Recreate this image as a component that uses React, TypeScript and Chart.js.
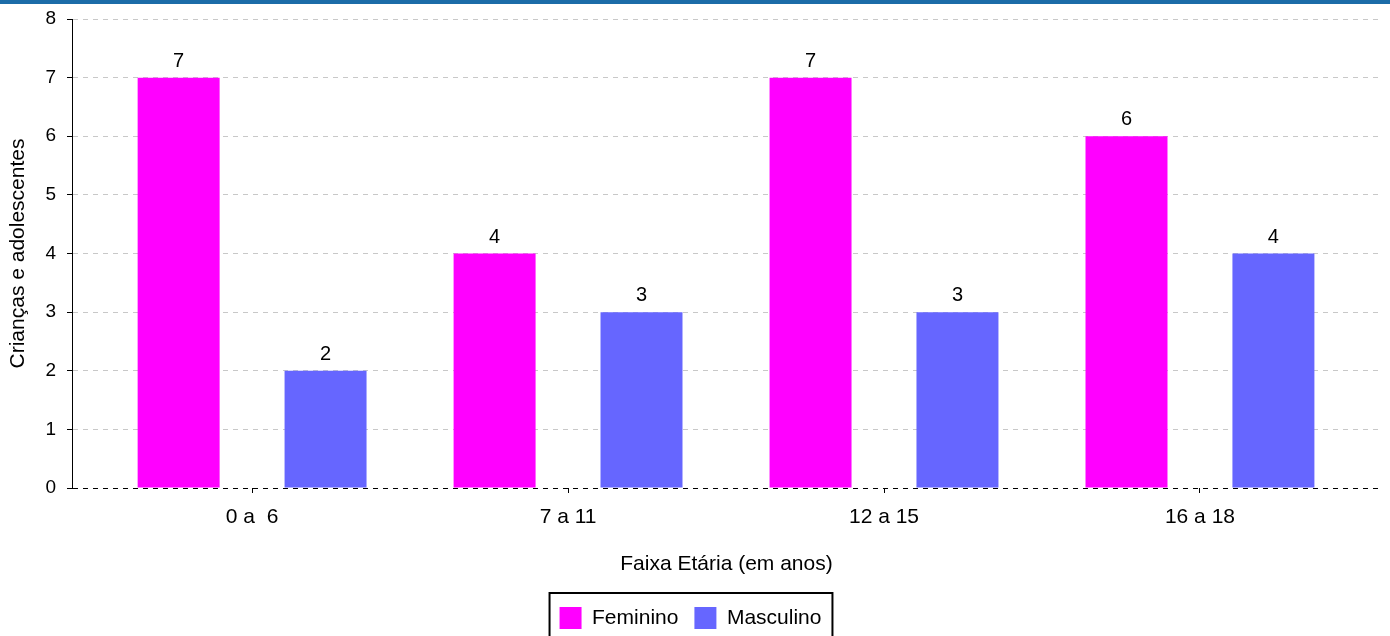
import React, { useEffect, useRef } from 'react';
import { Chart, registerables } from 'chart.js';

Chart.register(...registerables);

const categories = ['0 a  6', '7 a 11', '12 a 15', '16 a 18'];
const feminino = [7, 4, 7, 6];
const masculino = [2, 3, 3, 4];
const yMin = 0;
const yMax = 8;
const seriesNames = ['Feminino', 'Masculino'];
const seriesColors = ['#ff00ff', '#6666ff'];
const xTitle = 'Faixa Etária (em anos)';
const yTitle = 'Crianças e adolescentes';

const FONT = '"Liberation Sans", Arial, sans-serif';

const valueLabels = {
  id: 'valueLabels',
  afterDatasetsDraw(chart: any) {
    const ctx = chart.ctx;
    ctx.save();
    ctx.fillStyle = '#000';
    ctx.font = `20px ${FONT}`;
    ctx.textAlign = 'center';
    ctx.textBaseline = 'alphabetic';
    chart.data.datasets.forEach((ds: any, di: number) => {
      const meta = chart.getDatasetMeta(di);
      meta.data.forEach((bar: any, i: number) => {
        const v = ds.data[i].y;
        ctx.fillText(String(v), bar.x, bar.y - 11);
      });
    });
    ctx.restore();
  },
};

const legendBorder = {
  id: 'legendBorder',
  afterDraw(chart: any) {
    const lg = chart.legend;
    if (!lg || !lg.legendHitBoxes || !lg.legendHitBoxes.length) return;
    const hb = lg.legendHitBoxes;
    let l = Infinity, r = -Infinity, t = Infinity, b = -Infinity;
    hb.forEach((h: any) => {
      l = Math.min(l, h.left);
      r = Math.max(r, h.left + h.width);
      t = Math.min(t, h.top);
      b = Math.max(b, h.top + h.height);
    });
    const ctx = chart.ctx;
    ctx.save();
    ctx.strokeStyle = '#000';
    ctx.lineWidth = 2;
    ctx.strokeRect(l - 10, t - 14, r - l + 21, b - t + 28);
    ctx.restore();
  },
};

export default function App() {
  const ref = useRef<HTMLCanvasElement | null>(null);
  useEffect(() => {
    document.body.style.margin = '0';
    if (!ref.current) return;
    const chart = new Chart(ref.current, {
      type: 'bar',
      data: {
        datasets: [
          {
            label: seriesNames[0],
            data: feminino.map((v, i) => ({ x: i, y: v })),
            backgroundColor: seriesColors[0],
            borderWidth: 0,
            categoryPercentage: 0.93,
            barPercentage: 0.558,
          },
          {
            label: seriesNames[1],
            data: masculino.map((v, i) => ({ x: i, y: v })),
            backgroundColor: seriesColors[1],
            borderWidth: 0,
            categoryPercentage: 0.93,
            barPercentage: 0.558,
          },
        ],
      },
      options: {
        animation: false,
        responsive: true,
        maintainAspectRatio: false,
        layout: { padding: { top: 19, right: 9, left: 0, bottom: -3 } },
        plugins: {
          tooltip: { enabled: false },
          legend: {
            position: 'bottom',
            labels: {
              color: '#000',
              font: { family: FONT, size: 21 },
              boxWidth: 22,
              boxHeight: 22,
              padding: 16,
            },
          },
        },
        scales: {
          x: {
            type: 'linear',
            min: -0.57,
            max: 3.573,
            offset: false,
            grid: {
              offset: false,
              drawOnChartArea: false,
              drawTicks: true,
              tickLength: 5,
              tickColor: '#000',
            },
            border: { display: false },
            ticks: {
              stepSize: 1,
              includeBounds: false,
              autoSkip: false,
              maxRotation: 0,
              color: '#000',
              padding: 12,
              font: { family: FONT, size: 21 },
              callback: (v: any) => (Number.isInteger(v) && categories[v] !== undefined ? categories[v] : ''),
            },
            title: {
              display: true,
              text: xTitle,
              color: '#000',
              font: { family: FONT, size: 21 },
              padding: { top: 4, bottom: 14 },
            },
            afterFit: (s: any) => {
              s.height = 103;
            },
          },
          y: {
            min: yMin,
            max: yMax,
            grid: {
              color: (c: any) => (c.tick && c.tick.value === 0 ? '#000' : '#c8c8c8'),
              tickColor: '#000',
              tickLength: 5,
              lineWidth: 1,
            },
            border: { display: true, color: '#000', width: 1, dash: [5, 5] },
            ticks: {
              stepSize: 1,
              color: '#000',
              padding: 11,
              font: { family: FONT, size: 19 },
            },
            title: {
              display: true,
              text: yTitle,
              color: '#000',
              font: { family: FONT, size: 21 },
              padding: { top: 6, bottom: 0 },
            },
            afterFit: (s: any) => {
              s.width = 72;
              s.paddingTop = 0;
              s.paddingBottom = 0;
            },
          },
        },
      },
      plugins: [valueLabels, legendBorder],
    });
    return () => chart.destroy();
  }, []);

  return (
    <div style={{ position: 'relative', width: 1390, height: 636, background: '#fff', overflow: 'hidden' }}>
      <canvas ref={ref} />
      <div style={{ position: 'absolute', left: 0, top: 0, width: 1390, height: 4, background: '#1c6ca8' }} />
    </div>
  );
}
